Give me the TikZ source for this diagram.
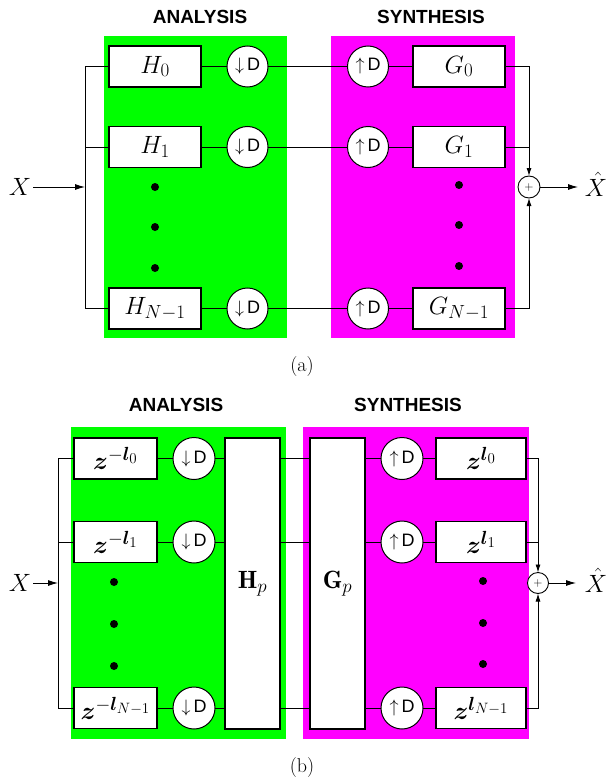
\RequirePackage{fix-cm}
\documentclass[tikz,border=0pt]{standalone}
\usepackage{amsmath}
\usepackage{bm}
\usepackage{fontspec}
\newfontfamily\lsans{Liberation Sans}
\usetikzlibrary{arrows.meta}
\DeclareMathSizes{25}{25}{19}{15}
\DeclareMathSizes{18}{18}{13}{10}
\definecolor{pgreen}{RGB}{0,255,0}
\definecolor{pmag}{RGB}{255,0,255}
\begin{document}
\begin{tikzpicture}[x=1pt,y=-1pt,
  every node/.style={outer sep=0pt},
  wire/.style={line width=0.9pt},
  filt/.style={draw, fill=white, line width=1.1pt, minimum width=92pt, minimum height=41pt, inner sep=0pt, font=\fontsize{25}{29}\selectfont},
  updn/.style={circle, draw, fill=white, line width=1pt, minimum size=41pt, inner sep=0pt, font=\fontsize{18}{21}\selectfont\lsans},
  sumnode/.style={circle, draw, fill=white, line width=0.9pt, minimum size=22pt, inner sep=0pt, font=\fontsize{12}{14}\selectfont},
  dotnode/.style={circle, fill=black, minimum size=8pt, inner sep=0pt},
  ttl/.style={font=\fontsize{19}{22}\selectfont\lsans\bfseries},
  lbl/.style={font=\fontsize{25}{29}\selectfont, inner sep=2pt},
  capt/.style={font=\fontsize{20}{24}\selectfont},
  arr/.style={-{Latex[length=10pt,width=6pt]}, line width=0.9pt},
  sarr/.style={-{Latex[length=8pt,width=5pt]}, line width=0.9pt}
]
\useasboundingbox (0,0) rectangle (606,781);
% ---------------- (a) ----------------
\fill[pgreen] (104,36) rectangle (287,338);
\fill[pmag] (331,36) rectangle (515,338);
\node[ttl] (tA) at (200,17) {ANALYSIS};
\node[ttl] (tS) at (431,17) {SYNTHESIS};
\node[filt] (h0) at (155,66.5) {$H_0$};
\node[filt] (h1) at (155,147) {$H_1$};
\node[filt] (hN) at (155,308.5) {$H_{N-1}$};
\node[updn] (d0) at (247.5,66.5) {$\downarrow$\,D};
\node[updn] (d1) at (247.5,147) {$\downarrow$\,D};
\node[updn] (dN) at (247.5,308.5) {$\downarrow$\,D};
\node[updn] (u0) at (368,66.5) {$\uparrow$\,D};
\node[updn] (u1) at (368,147) {$\uparrow$\,D};
\node[updn] (uN) at (368,308.5) {$\uparrow$\,D};
\node[filt] (g0) at (459,66.5) {$G_0$};
\node[filt] (g1) at (459,147) {$G_1$};
\node[filt] (gN) at (459,308.5) {$G_{N-1}$};
\node[sumnode] (sA) at (529,187) {$+$};
\node[dotnode] (da1) at (155,187) {};
\node[dotnode] (da2) at (155,227) {};
\node[dotnode] (da3) at (155,268) {};
\node[dotnode] (ds1) at (459,185) {};
\node[dotnode] (ds2) at (459,225) {};
\node[dotnode] (ds3) at (459,266) {};
\node[lbl, anchor=base] (XA) at (20,195) {$X$};
\node[lbl, anchor=base] (XhA) at (596,196) {$\hat{X}$};
\node[capt] (ca) at (302,367) {(a)};
\coordinate (bA0) at (85,66.5);
\coordinate (bA1) at (85,147);
\coordinate (bAN) at (85,308.5);
\coordinate (bAX) at (85,187);
\coordinate (oA0) at (529,66.5);
\coordinate (oA1) at (529,147);
\coordinate (oAN) at (529,308.5);
\coordinate (eA) at (578,187);
\draw[wire] (h0.west) -- (bA0) -- (bAN) -- (hN.west);
\draw[wire] (bA1) -- (h1.west);
\draw[arr] (XA.east |- bAX) -- (bAX);
\foreach \r in {0,1,N}{
  \draw[wire] (h\r.east) -- (d\r.west);
  \draw[wire] (d\r.east) -- (u\r.west);
  \draw[wire] (u\r.east) -- (g\r.west);
}
\draw[sarr] (g0.east) -- (oA0) -- (sA.north);
\draw[wire] (g1.east) -- (oA1);
\draw[sarr] (gN.east) -- (oAN) -- (sA.south);
\draw[arr] (sA.east) -- (eA);
% ---------------- (b) ----------------
\fill[pgreen] (71,427) rectangle (286,739);
\fill[pmag] (303,427) rectangle (529,739);
\node[ttl] (tA2) at (176,405) {ANALYSIS};
\node[ttl] (tS2) at (408,405) {SYNTHESIS};
\node[filt, minimum width=83pt] (z0) at (115.5,458.5) {$\bm{z}^{-\bm{l}_0}$};
\node[filt, minimum width=83pt] (z1) at (115.5,542) {$\bm{z}^{-\bm{l}_1}$};
\node[filt, minimum width=83pt] (zN) at (115.5,708) {$\bm{z}^{-\bm{l}_{N-1}}$};
\node[updn, minimum size=42pt] (e0) at (194,458.5) {$\downarrow$\,D};
\node[updn, minimum size=42pt] (e1) at (194,542) {$\downarrow$\,D};
\node[updn, minimum size=42pt] (eN) at (194,708) {$\downarrow$\,D};
\node[filt, minimum width=55pt, minimum height=291pt] (Hp) at (252.5,583.5) {$\mathbf{H}_p$};
\node[filt, minimum width=55pt, minimum height=291pt] (Gp) at (337.5,583.5) {$\mathbf{G}_p$};
\node[updn, minimum size=42pt] (v0) at (402,458.5) {$\uparrow$\,D};
\node[updn, minimum size=42pt] (v1) at (402,542) {$\uparrow$\,D};
\node[updn, minimum size=42pt] (vN) at (402,708) {$\uparrow$\,D};
\node[filt, minimum width=90pt] (w0) at (481,458.5) {$\bm{z}^{\bm{l}_0}$};
\node[filt, minimum width=90pt] (w1) at (481,542) {$\bm{z}^{\bm{l}_1}$};
\node[filt, minimum width=90pt] (wN) at (481,708) {$\bm{z}^{\bm{l}_{N-1}}$};
\node[sumnode, minimum size=21pt] (sB) at (538,583) {$+$};
\node[dotnode] (db1) at (114,582) {};
\node[dotnode] (db2) at (114,624) {};
\node[dotnode] (db3) at (114,666) {};
\node[dotnode] (dt1) at (483,581) {};
\node[dotnode] (dt2) at (483,623) {};
\node[dotnode] (dt3) at (483,664) {};
\node[lbl, anchor=base] (XB) at (20,591) {$X$};
\node[lbl, anchor=base] (XhB) at (596,592) {$\hat{X}$};
\node[capt] (cb) at (302,767) {(b)};
\coordinate (bB0) at (58,458.5);
\coordinate (bB1) at (58,542);
\coordinate (bBN) at (58,708);
\coordinate (bBX) at (58,583);
\coordinate (oB0) at (538,458.5);
\coordinate (oB1) at (538,542);
\coordinate (oBN) at (538,708);
\coordinate (eB) at (576,583);
\draw[wire] (z0.west) -- (bB0) -- (bBN) -- (zN.west);
\draw[wire] (bB1) -- (z1.west);
\draw[arr] (XB.east |- bBX) -- (bBX);
\foreach \r in {0,1,N}{
  \draw[wire] (z\r.east) -- (e\r.west);
  \draw[wire] (e\r.east) -- (e\r.east -| Hp.west);
  \draw[wire] (Hp.east |- e\r) -- (Gp.west |- e\r);
  \draw[wire] (Gp.east |- v\r) -- (v\r.west);
  \draw[wire] (v\r.east) -- (w\r.west);
}
\draw[sarr] (w0.east) -- (oB0) -- (sB.north);
\draw[wire] (w1.east) -- (oB1);
\draw[sarr] (wN.east) -- (oBN) -- (sB.south);
\draw[arr] (sB.east) -- (eB);
\end{tikzpicture}
\end{document}
